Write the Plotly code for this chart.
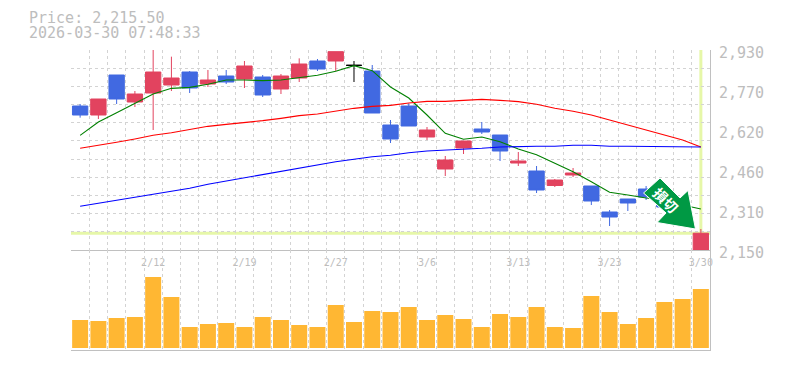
import plotly.graph_objects as go

dates = ["2/5","2/6","2/9","2/10","2/12","2/13","2/16","2/17","2/18","2/19","2/20","2/24","2/25","2/26","2/27",
         "3/2","3/3","3/4","3/5","3/6","3/9","3/10","3/11","3/12","3/13","3/16","3/17","3/18","3/19","3/23",
         "3/24","3/25","3/26","3/27","3/30"]
label_dates = ["2/12","2/19","2/27","3/6","3/13","3/23","3/30"]

opens = [2711.6,2676.5,2832.5,2727.2,2762.3,2793.5,2844.2,2797.4,2828.6,2816.9,2824.7,2777.9,2820.8,2887.1,2887.1,
         2870.2,2848.1,2637.5,2711.6,2590.7,2465.9,2547.8,2621.9,2598.5,2489.3,2458.1,2401.6,2442.5,2399.6,2298.2,
         2348.9,2387.9,2384.0,2267.0,2150.0]
highs = [2719.4,2738.9,2832.5,2770.1,2935.0,2904.0,2848.1,2852.0,2852.0,2887.1,2832.5,2836.4,2897.5,2894.9,2923.5,
         2887.1,2871.5,2657.0,2722.0,2629.7,2516.6,2575.1,2649.2,2598.5,2532.2,2477.6,2426.9,2469.8,2399.6,2306.0,
         2348.9,2399.6,2395.7,2333.3,2231.9]
lows = [2666.1,2660.9,2719.4,2707.7,2618.0,2770.1,2762.3,2785.7,2797.4,2781.8,2746.7,2758.4,2805.2,2848.1,2848.1,
        2805.2,2684.3,2567.3,2633.6,2579.0,2438.6,2524.4,2602.4,2497.1,2477.6,2372.3,2395.7,2434.7,2325.5,2243.6,
        2302.1,2345.0,2313.8,2259.2,2150.0]
closes = [2676.5,2738.9,2738.9,2758.4,2844.2,2820.8,2781.8,2813.0,2805.2,2867.6,2754.5,2828.6,2875.4,2855.9,2923.5,
          2870.2,2684.3,2582.9,2633.6,2618.0,2501.0,2575.1,2610.2,2536.1,2497.1,2384.0,2423.0,2450.3,2341.1,2278.7,
          2333.3,2356.7,2317.7,2321.6,2215.5]
ma_short = [2597.2,2649.2,2685.6,2722.0,2758.4,2780.5,2784.4,2796.1,2813.0,2813.0,2810.4,2813.0,2822.1,2831.2,2846.8,
            2868.9,2849.4,2785.7,2742.8,2676.5,2605.1,2581.7,2590.7,2572.4,2543.9,2521.7,2488.1,2455.4,2416.4,2375.0,
            2364.5,2352.8,2345.0,2325.5,2309.9]
ma_mid = [2546.5,2556.9,2569.9,2582.9,2597.2,2607.6,2620.6,2632.3,2640.1,2646.6,2654.4,2663.5,2673.9,2680.4,2692.1,
          2702.5,2710.3,2714.2,2723.3,2729.8,2729.8,2735.0,2737.6,2733.7,2728.5,2718.1,2702.5,2690.8,2676.5,2657.0,
          2637.5,2620.6,2601.1,2579.0,2551.7]
ma_long = [2320.4,2332.1,2343.8,2355.5,2367.2,2377.4,2390.6,2406.2,2419.1,2432.0,2445.2,2456.9,2469.8,2482.7,2494.4,
           2503.7,2513.9,2519.3,2529.5,2536.1,2538.8,2543.9,2546.6,2551.7,2554.4,2554.4,2554.4,2558.3,2558.3,2554.4,
           2554.4,2554.4,2554.4,2554.4,2551.7]
volumes = [28,27,30,31,71,51,21,24,25,21,31,28,23,21,43,26,37,36,41,28,33,29,21,34,31,41,21,20,52,36,24,30,46,49,59]
price_ticks = [2930,2774,2618,2462,2306,2150]
price_labels = ["2,930","2,770","2,620","2,460","2,310","2,150"]
last_price = 2215.5
header = ["Price: 2,215.50","2026-03-30 07:48:33"]
arrow_text = "\u640d\u5207"

idx = list(range(len(dates)))
GRID = "#d3d3d3"
AXIS = "#c0c0c0"
TXT = "#bdbdbd"
MONO = "DejaVu Sans Mono"
W, H = 785, 370
L, R, T, MID, B = 70.5, 710.0, 50.0, 250.0, 350.0

is_doji = [o == c for o, c in zip(opens, closes)]
pick = lambda a, flag: [v if d == flag else None for v, d in zip(a, is_doji)]

fig = go.Figure()
fig.add_trace(go.Candlestick(x=idx, open=pick(opens, False), high=pick(highs, False), low=pick(lows, False), close=pick(closes, False),
    increasing=dict(line=dict(color="#E2435F", width=1), fillcolor="#E2435F"),
    decreasing=dict(line=dict(color="#4169E1", width=1), fillcolor="#4169E1"),
    whiskerwidth=0, xaxis="x", yaxis="y"))
fig.add_trace(go.Candlestick(x=idx, open=pick(opens, True), high=pick(highs, True), low=pick(lows, True), close=pick(closes, True),
    increasing=dict(line=dict(color="#000000", width=1), fillcolor="#000000"),
    decreasing=dict(line=dict(color="#000000", width=1), fillcolor="#000000"),
    whiskerwidth=0, xaxis="x", yaxis="y"))
for vals, col in [(ma_short, "#008000"), (ma_mid, "#ff0000"), (ma_long, "#0000ff")]:
    fig.add_trace(go.Scatter(x=idx, y=vals, mode="lines", line=dict(color=col, width=1.1), xaxis="x", yaxis="y"))
fig.add_trace(go.Bar(x=idx, y=volumes, marker=dict(color="#FFB733", line=dict(width=0)), xaxis="x2", yaxis="y2"))

px = lambda x: (x - L) / (R - L)  # header/arrow decoration placement only
py = lambda y: (B - y) / (B - T)

minor_x = dict(showgrid=True, gridcolor=GRID, griddash="3px,3px", gridwidth=1, tick0=-0.5, dtick=1, ticks="")
arrow_pts = [(660, 178), (680, 198), (688, 190.5), (695.5, 229), (657, 222.5), (666, 213), (643.5, 193)]
arrow_path = "M " + " L ".join(f"{px(x):.4f} {py(y):.4f}" for x, y in arrow_pts) + " Z"
fig.update_layout(
    width=W, height=H, margin=dict(l=L, r=W - R, t=T, b=H - B, pad=0, autoexpand=False),
    paper_bgcolor="white", plot_bgcolor="white", showlegend=False,
    bargap=0.125, boxgap=0.16, boxgroupgap=0,
    font=dict(family=MONO, color=TXT),
    xaxis=dict(domain=[0, 1], range=[-0.5, 34.5], anchor="y", rangeslider=dict(visible=False),
               tickmode="array", tickvals=[dates.index(d) for d in label_dates], ticktext=label_dates,
               tickfont=dict(size=10, color=TXT), ticks="", showgrid=False, minor=minor_x,
               showline=True, linecolor=AXIS, linewidth=1, zeroline=False, ticklabelstandoff=3),
    xaxis2=dict(domain=[0, 1], range=[-0.5, 34.5], anchor="y2", showticklabels=False, ticks="", showgrid=False,
                minor=minor_x, showline=True, linecolor=AXIS, linewidth=1, zeroline=False),
    yaxis=dict(domain=[(B - MID) / (B - T), 1], range=[2150, 2930], anchor="x", side="right",
               tickmode="array", tickvals=price_ticks, ticktext=price_labels,
               tickfont=dict(size=15, color=TXT), ticks="", showgrid=False, ticklabelshift=3, ticklabelstandoff=5,
               minor=dict(showgrid=True, gridcolor=GRID, griddash="3px,3px", gridwidth=1, tick0=2150, dtick=780 / 11, ticks=""),
               showline=True, linecolor=AXIS, linewidth=1, zeroline=False),
    yaxis2=dict(domain=[0, (B - MID) / (B - T)], range=[-2, 98], anchor="x2", side="right", showticklabels=False,
                ticks="", showgrid=False, showline=True, linecolor=AXIS, linewidth=1, zeroline=False),
    shapes=[
        dict(type="line", xref="paper", x0=0, x1=1, yref="y", y0=last_price, y1=last_price,
             line=dict(color="#E6F7A8", width=3), layer="below"),
        dict(type="line", xref="x", x0=idx[-1], x1=idx[-1], yref="y", y0=last_price, y1=2930,
             line=dict(color="#E6F7A8", width=3), layer="below"),
        dict(type="path", xref="paper", yref="paper", path=arrow_path,
             fillcolor="#009944", line=dict(color="white", width=1), layer="above"),
    ],
    annotations=[
        dict(text=header[0], xref="paper", yref="paper", x=px(26), y=py(18), xanchor="left", yanchor="middle",
             showarrow=False, font=dict(size=15, color=TXT, family=MONO)),
        dict(text=header[1], xref="paper", yref="paper", x=px(26), y=py(33), xanchor="left", yanchor="middle",
             showarrow=False, font=dict(size=15, color=TXT, family=MONO)),
        dict(text=arrow_text, xref="paper", yref="paper", x=px(666), y=py(200), xanchor="center", yanchor="middle",
             showarrow=False, textangle=45, font=dict(size=14, color="white", family="Noto Sans CJK JP", weight="bold")),
    ],
)
fig.write_html("out.html", config={"displayModeBar": False}, post_script="document.body.style.margin='0';")
